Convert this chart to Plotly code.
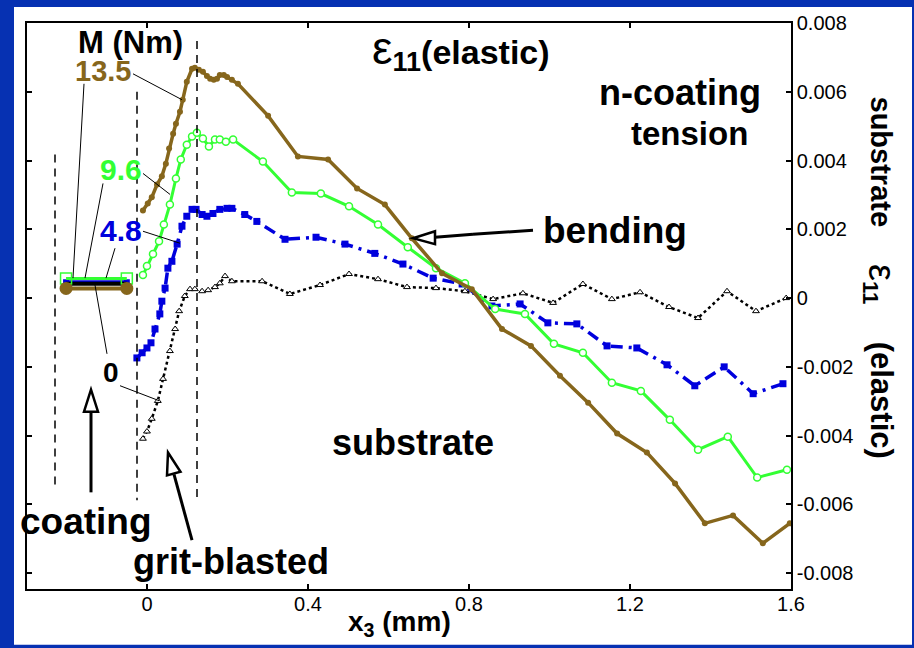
import plotly.graph_objects as go

# ---------------- data ----------------
x_m135 = [-0.010, 0.002, 0.012, 0.025, 0.037, 0.047, 0.055, 0.065, 0.072, 0.082, 0.089, 0.099,
          0.112, 0.119, 0.129, 0.139, 0.149, 0.157, 0.166, 0.174, 0.181, 0.191, 0.199, 0.211,
          0.226, 0.301, 0.375, 0.450, 0.522, 0.591, 0.658, 0.733, 0.807, 0.882, 0.954, 1.026,
          1.096, 1.168, 1.242, 1.312, 1.386, 1.456, 1.530, 1.597]
y_m135 = [0.00255, 0.00275, 0.00293, 0.00330, 0.00354, 0.00391, 0.00435, 0.00478, 0.00507,
          0.00542, 0.00577, 0.00629, 0.00667, 0.00670, 0.00664, 0.00658, 0.00646, 0.00638,
          0.00635, 0.00638, 0.00649, 0.00649, 0.00643, 0.00635, 0.00623, 0.00530, 0.00412,
          0.00403, 0.00319, 0.00272, 0.00174, 0.00072, 0.00026, -0.00090, -0.00139, -0.00226,
          -0.00304, -0.00394, -0.00449, -0.00539, -0.00655, -0.00632, -0.00713, -0.00655]

x_m96 = [-0.010, 0.000, 0.015, 0.030, 0.042, 0.057, 0.072, 0.084, 0.099, 0.112, 0.124, 0.139,
         0.154, 0.169, 0.181, 0.196, 0.214, 0.288, 0.360, 0.432, 0.502, 0.574, 0.648, 0.718,
         0.790, 0.865, 0.939, 1.011, 1.083, 1.155, 1.227, 1.299, 1.369, 1.443, 1.516, 1.590]
y_m96 = [0.00067, 0.00093, 0.00128, 0.00165, 0.00214, 0.00272, 0.00348, 0.00403, 0.00446,
         0.00470, 0.00481, 0.00464, 0.00441, 0.00461, 0.00461, 0.00455, 0.00461, 0.00397,
         0.00307, 0.00304, 0.00267, 0.00214, 0.00148, 0.00087, 0.00043, -0.00032, -0.00046,
         -0.00133, -0.00159, -0.00246, -0.00270, -0.00354, -0.00441, -0.00403, -0.00522, -0.00499]

x_m48 = [-0.025, -0.012, 0.000, 0.010, 0.020, 0.032, 0.037, 0.045, 0.052, 0.062, 0.075, 0.087,
         0.099, 0.112, 0.122, 0.137, 0.149, 0.164, 0.181, 0.199, 0.211, 0.243, 0.273, 0.343,
         0.420, 0.492, 0.566, 0.636, 0.711, 0.783, 0.857, 0.927, 0.996, 1.068, 1.143, 1.217,
         1.292, 1.361, 1.434, 1.506, 1.580]
y_m48 = [-0.00174, -0.00159, -0.00145, -0.00130, -0.00090, -0.00046, -0.00009, 0.00029, 0.00087,
         0.00107, 0.00157, 0.00209, 0.00238, 0.00258, 0.00258, 0.00243, 0.00238, 0.00246,
         0.00258, 0.00261, 0.00261, 0.00243, 0.00223, 0.00171, 0.00177, 0.00157, 0.00130,
         0.00099, 0.00058, 0.00041, -0.00023, -0.00017, -0.00072, -0.00075, -0.00139, -0.00145,
         -0.00194, -0.00255, -0.00200, -0.00278, -0.00249]

x_m0 = [-0.010, 0.000, 0.012, 0.027, 0.040, 0.057, 0.070, 0.080, 0.094, 0.107, 0.119, 0.137,
        0.152, 0.169, 0.181, 0.194, 0.211, 0.286, 0.355, 0.430, 0.502, 0.574, 0.646, 0.718,
        0.790, 0.860, 0.934, 1.009, 1.083, 1.155, 1.225, 1.297, 1.369, 1.441, 1.513, 1.588]
y_m0 = [-0.00409, -0.00388, -0.00351, -0.00299, -0.00235, -0.00154, -0.00090, -0.00038, 0.00006,
        0.00026, 0.00026, 0.00020, 0.00023, 0.00032, 0.00043, 0.00064, 0.00049, 0.00049,
        0.00012, 0.00038, 0.00070, 0.00055, 0.00032, 0.00029, 0.00020, -0.00003, 0.00014,
        -0.00014, 0.00041, -0.00003, 0.00017, -0.00026, -0.00058, 0.00020, -0.00038, 0.00000]

# coating layer values (all moments nearly identical there)
x_coat = [-0.201, -0.050]
y_coat_m135 = [0.00028, 0.00028]
y_coat_m96 = [0.00057, 0.00057]
y_coat_m48 = [0.00046, 0.00046]
y_coat_m0 = [0.00042, 0.00042]

x_tick_vals = [0, 0.4, 0.8, 1.2, 1.6]
x_tick_text = ["0", "0.4", "0.8", "1.2", "1.6"]
y_tick_vals = [0.008, 0.006, 0.004, 0.002, 0, -0.002, -0.004, -0.006, -0.008]
y_tick_text = ["0.008", "0.006", "0.004", "0.002", "0", "-0.002", "-0.004", "-0.006", "-0.008"]

moment_labels = ["13.5", "9.6", "4.8", "0"]

# ---------------- styling ----------------
W, H = 914, 648
L, R, T, B = 27, 123, 21, 59
PW, PH = W - L - R, H - T - B
FONT = "Liberation Sans, Arial, sans-serif"
BROWN = "#86661c"
GREEN = "#33ff33"
BLUE = "#0000dd"
BLACK = "#000000"


def PX(px):
    return (px - L) / PW


def PY(py):
    return (H - B - py) / PH


fig = go.Figure()

# coating segment traces
fig.add_trace(go.Scatter(x=x_coat, y=y_coat_m48, mode="lines+markers",
                         line=dict(color=BLUE, width=4),
                         marker=dict(symbol="square", size=6, color=BLUE)))
fig.add_trace(go.Scatter(x=x_coat, y=y_coat_m0, mode="lines",
                         line=dict(color=BLACK, width=4)))
fig.add_trace(go.Scatter(x=x_coat, y=y_coat_m96, mode="lines+markers",
                         line=dict(color=GREEN, width=3),
                         marker=dict(symbol="square", size=11, color="rgba(255,255,255,0)",
                                     line=dict(color=GREEN, width=1.5))))
fig.add_trace(go.Scatter(x=x_coat, y=y_coat_m135, mode="lines+markers",
                         line=dict(color=BROWN, width=4),
                         marker=dict(symbol="circle", size=13, color=BROWN)))

# substrate curves
fig.add_trace(go.Scatter(x=x_m0, y=y_m0, mode="lines+markers", name=moment_labels[3],
                         line=dict(color=BLACK, width=2.5, dash="3px,3px"),
                         marker=dict(symbol="triangle-up", size=6, color="white",
                                     line=dict(color=BLACK, width=1))))
fig.add_trace(go.Scatter(x=x_m48, y=y_m48, mode="lines+markers", name=moment_labels[2],
                         line=dict(color=BLUE, width=3.5, dash="12px,6px,3px,6px"),
                         marker=dict(symbol="square", size=7, color=BLUE)))
fig.add_trace(go.Scatter(x=x_m96, y=y_m96, mode="lines+markers", name=moment_labels[1],
                         line=dict(color=GREEN, width=3),
                         marker=dict(symbol="circle", size=7, color="white",
                                     line=dict(color=GREEN, width=1.5))))
fig.add_trace(go.Scatter(x=x_m135, y=y_m135, mode="lines+markers", name=moment_labels[0],
                         line=dict(color=BROWN, width=3.5),
                         marker=dict(symbol="circle", size=6, color=BROWN)))

shapes = []
# white slide panel
shapes.append(dict(type="rect", xref="paper", yref="paper", layer="below",
                   x0=PX(14), x1=PX(912), y0=PY(645), y1=PY(5),
                   fillcolor="white", line=dict(width=0)))


def seg(p, q, width=1, dash=None, color=BLACK):
    d = dict(type="line", xref="paper", yref="paper",
             x0=PX(p[0]), y0=PY(p[1]), x1=PX(q[0]), y1=PY(q[1]),
             line=dict(color=color, width=width))
    if dash:
        d["line"]["dash"] = dash
    shapes.append(d)


# dashed region boundaries
seg((55, 153), (55, 488), 1.5, "8px,6px")
seg((137, 90), (137, 500), 1.5, "8px,6px")
seg((197, 39), (197, 497), 1.5, "8px,6px")

# leader lines
for p, q in [((133, 72), (182, 98)), ((143, 172), (170, 193)), ((143, 230), (180, 242)),
             ((120, 385), (159, 400)), ((84, 82), (73, 277)), ((103, 182), (85, 277)),
             ((115, 247), (106, 277)), ((95, 284), (107, 353))]:
    seg(p, q, 1)


def tri(pts):
    path = "M " + " L ".join(f"{PX(x)} {PY(y)}" for x, y in pts) + " Z"
    shapes.append(dict(type="path", xref="paper", yref="paper", path=path,
                       fillcolor="white", line=dict(color=BLACK, width=2.5)))


# arrows
seg((91, 492), (91, 410), 3)
tri([(91, 389), (84, 411), (98, 411)])
seg((192, 540), (174, 474), 3)
tri([(168, 452), (180.5, 471.4), (167.0, 475.0)])
seg((533, 229), (473, 233), 3)
seg((473, 233), (435, 236), 3)
tri([(413, 237), (435, 230), (435, 243)])

annotations = []


def txt(s, x, y, size, color=BLACK, angle=0):
    annotations.append(dict(text=s, xref="paper", yref="paper", x=PX(x), y=PY(y),
                            xanchor="center", yanchor="middle", showarrow=False,
                            textangle=angle, font=dict(family=FONT, size=size, color=color)))


txt("<b>M (Nm)</b>", 130, 41, 31)
txt("<b>" + moment_labels[0] + "</b>", 103, 69, 29, BROWN)
txt("<b>" + moment_labels[1] + "</b>", 121, 168, 30, GREEN)
txt("<b>" + moment_labels[2] + "</b>", 121, 229, 30, BLUE)
txt("<b>" + moment_labels[3] + "</b>", 111, 372, 28, BLACK)
txt("<span style='font-size:46px'>ε</span><b><sub><span style='font-size:27px'>11</span></sub>"
    "(elastic)</b>", 461, 48, 34)
txt("<b>n-coating</b>", 680, 91, 36)
txt("<b>tension</b>", 689, 132, 33)
txt("<b>bending</b>", 615, 229, 37)
txt("<b>substrate</b>", 413, 442, 36)
txt("<b>coating</b>", 86, 521, 37)
txt("<b>grit-blasted</b>", 231, 561, 36)
txt("<b>x<sub>3</sub> (mm)</b>", 399, 624, 28)
# right-hand axis title, written top to bottom
txt("<b>substrate</b>", 881, 160, 29, BLACK, 90)
txt("<span style='font-size:38px'>ε</span><b><sub><span style='font-size:22px'>11</span></sub></b>",
    881, 283, 29, BLACK, 90)
txt("<b>(elastic)</b>", 881, 399, 31, BLACK, 90)

axis_common = dict(showgrid=False, zeroline=False, showline=True, linecolor=BLACK,
                   linewidth=1.5, mirror="ticks", ticks="inside", ticklen=5,
                   tickwidth=1.5, tickcolor=BLACK,
                   tickfont=dict(family=FONT, size=20, color=BLACK))

fig.update_layout(
    width=W, height=H,
    margin=dict(l=L, r=R, t=T, b=B, pad=0),
    paper_bgcolor="#0631b2",
    plot_bgcolor="rgba(0,0,0,0)",
    showlegend=False,
    shapes=shapes,
    annotations=annotations,
    xaxis=dict(range=[-0.298, 1.6], tickvals=x_tick_vals, ticktext=x_tick_text,
               ticklabelstandoff=-4, **axis_common),
    yaxis=dict(range=[-0.00846, 0.008], side="right", tickvals=y_tick_vals,
               ticktext=y_tick_text, **axis_common),
)

fig.write_html("out.html", config={"displayModeBar": False},
               post_script="document.body.style.margin='0';"
                           "document.body.style.overflow='hidden';")
